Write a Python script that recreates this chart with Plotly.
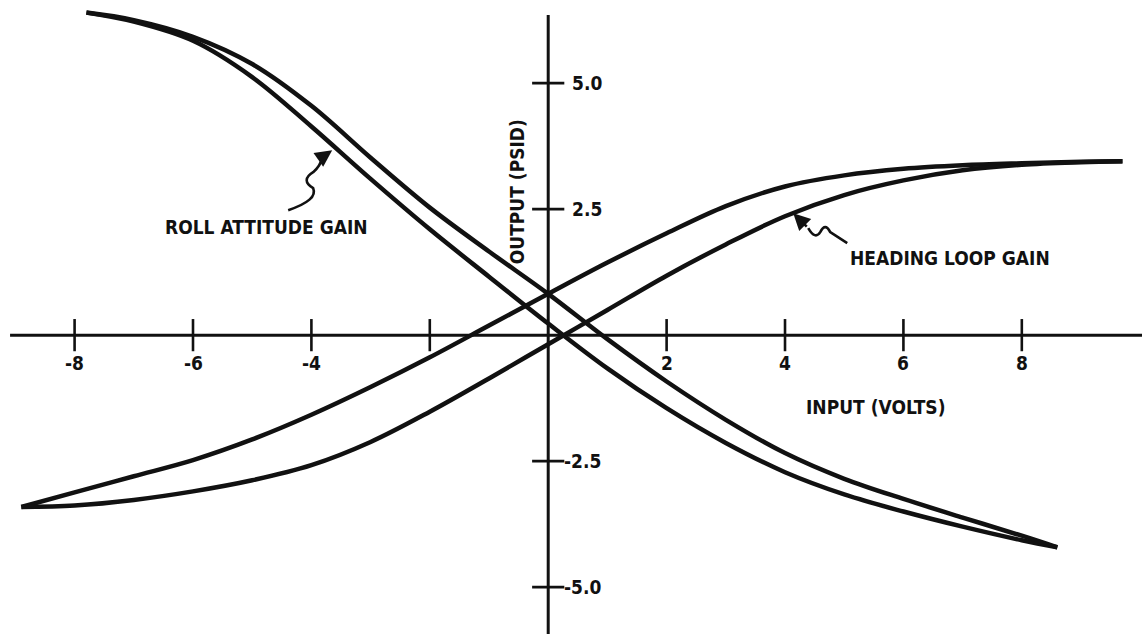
import plotly.graph_objects as go

# ---- data -------------------------------------------------------------
# Roll attitude gain loop (decreasing), two branches sharing endpoints
roll_x = [-7.8, -7.0, -6.0, -5.0, -4.0, -3.0, -2.0, -1.0, 0.0, 1.0,
          2.0, 3.0, 4.0, 5.0, 6.0, 7.0, 8.0, 8.6]
roll_inner = [6.40, 6.22, 5.84, 5.12, 4.14, 3.10, 2.10, 1.16, 0.23, -0.66,
              -1.45, -2.14, -2.72, -3.16, -3.50, -3.80, -4.07, -4.21]
roll_outer = [6.40, 6.25, 5.92, 5.38, 4.55, 3.52, 2.53, 1.66, 0.82, -0.08,
              -0.92, -1.68, -2.34, -2.85, -3.25, -3.62, -3.98, -4.21]

# Heading loop gain loop (increasing), two branches sharing endpoints
heading_x = [-8.9, -8.0, -7.0, -6.0, -5.0, -4.0, -3.0, -2.0, -1.0, 0.0,
             1.0, 2.0, 3.0, 4.0, 5.0, 6.0, 7.0, 8.0, 9.0, 9.7]
heading_upper = [-3.41, -3.12, -2.80, -2.48, -2.07, -1.58, -1.03, -0.44, 0.19, 0.82,
                 1.44, 2.02, 2.56, 2.95, 3.17, 3.30, 3.37, 3.41, 3.44, 3.45]
heading_lower = [-3.41, -3.38, -3.27, -3.10, -2.88, -2.58, -2.12, -1.52, -0.86, -0.18,
                 0.50, 1.18, 1.80, 2.36, 2.78, 3.07, 3.27, 3.38, 3.43, 3.45]

# axis ticks
x_ticks = [-8, -6, -4, -2, 2, 4, 6, 8]
x_tick_labels = ["-8", "-6", "-4", "", "2", "4", "6", "8"]
y_ticks = [5.0, 2.5, -2.5, -5.0]
y_tick_labels = ["5.0", "2.5", "-2.5", "-5.0"]

X_TITLE = "INPUT (VOLTS)"
Y_TITLE = "OUTPUT (PSID)"
ROLL_LABEL = "ROLL ATTITUDE GAIN"
HEADING_LABEL = "HEADING LOOP GAIN"

# ---- style ------------------------------------------------------------
INK = "#111111"
FONT = "DejaVu Sans Condensed, Liberation Sans Narrow, DejaVu Sans, sans-serif"
CURVE_W = 4.5

fig = go.Figure()

for ys in (roll_inner, roll_outer):
    fig.add_trace(go.Scatter(x=roll_x, y=ys, mode="lines",
                             line=dict(color=INK, width=CURVE_W, shape="spline", smoothing=1.0),
                             hoverinfo="skip", showlegend=False))
for ys in (heading_upper, heading_lower):
    fig.add_trace(go.Scatter(x=heading_x, y=ys, mode="lines",
                             line=dict(color=INK, width=CURVE_W, shape="spline", smoothing=1.0),
                             hoverinfo="skip", showlegend=False))

# axes drawn through the origin
X_MIN, X_MAX = -9.26, 10.03
Y_MIN, Y_MAX = -5.93, 6.65
fig.add_shape(type="line", x0=-9.09, x1=X_MAX, y0=0, y1=0,
              line=dict(color=INK, width=3), layer="below")
fig.add_shape(type="line", x0=0, x1=0, y0=Y_MIN, y1=6.35,
              line=dict(color=INK, width=3), layer="below")

# tick marks crossing the axes
fig.add_trace(go.Scatter(x=x_ticks, y=[0] * len(x_ticks), mode="markers",
                         marker=dict(symbol="line-ns", size=23,
                                     line=dict(color=INK, width=2.6)),
                         hoverinfo="skip", showlegend=False))
fig.add_trace(go.Scatter(x=[0] * len(y_ticks), y=y_ticks, mode="markers",
                         marker=dict(symbol="line-ew", size=23,
                                     line=dict(color=INK, width=2.6)),
                         hoverinfo="skip", showlegend=False))

tick_font = dict(family=FONT, size=19, color=INK, weight="bold")
for v, t in zip(x_ticks, x_tick_labels):
    if t:
        fig.add_annotation(x=v, y=0, text=t, showarrow=False, font=tick_font,
                           xanchor="center", yanchor="middle", yshift=-28)
for v, t in zip(y_ticks, y_tick_labels):
    fig.add_annotation(x=0, y=v, text=t, showarrow=False, font=tick_font,
                       xanchor="left", yanchor="middle",
                       xshift=22 if v > 0 else 14)

label_font = dict(family=FONT, size=19, color=INK, weight="bold")
fig.add_annotation(x=0, y=2.84, text=Y_TITLE, textangle=-90, showarrow=False,
                   font=label_font, xanchor="center", yanchor="middle", xshift=-31)
fig.add_annotation(x=5.52, y=-1.43, text=X_TITLE, showarrow=False,
                   font=label_font, xanchor="center", yanchor="middle")
fig.add_annotation(x=-4.76, y=2.14, text=ROLL_LABEL, showarrow=False,
                   font=label_font, xanchor="center", yanchor="middle")
fig.add_annotation(x=6.79, y=1.53, text=HEADING_LABEL, showarrow=False,
                   font=label_font, xanchor="center", yanchor="middle")

# wavy leader lines ending in arrowheads on the curves
fig.add_shape(type="path",
              path="M -4.392,2.480 Q -3.885,2.679 -3.970,2.917 "
                   "Q -4.189,3.075 -3.970,3.234 Q -3.851,3.353 -3.818,3.512",
              line=dict(color=INK, width=2.6))
fig.add_annotation(x=-3.649, y=3.67, ax=-10, ay=7, text="", showarrow=True,
                   arrowhead=2, arrowsize=1.3, arrowwidth=2.6, arrowcolor=INK)

fig.add_shape(type="path",
              path="M 5.051,1.825 L 4.764,2.044 Q 4.679,2.242 4.595,2.044 "
                   "Q 4.510,1.885 4.392,2.123",
              line=dict(color=INK, width=2.6))
fig.add_annotation(x=4.139, y=2.421, ax=15, ay=15, text="", showarrow=True,
                   arrowhead=2, arrowsize=1.3, arrowwidth=2.6, arrowcolor=INK)

fig.update_layout(
    width=1142, height=634, autosize=False,
    margin=dict(l=0, r=0, t=0, b=0),
    paper_bgcolor="white", plot_bgcolor="white",
    xaxis=dict(range=[X_MIN, X_MAX], visible=False, fixedrange=True),
    yaxis=dict(range=[Y_MIN, Y_MAX], visible=False, fixedrange=True),
    showlegend=False,
)

fig.write_html("out.html")
